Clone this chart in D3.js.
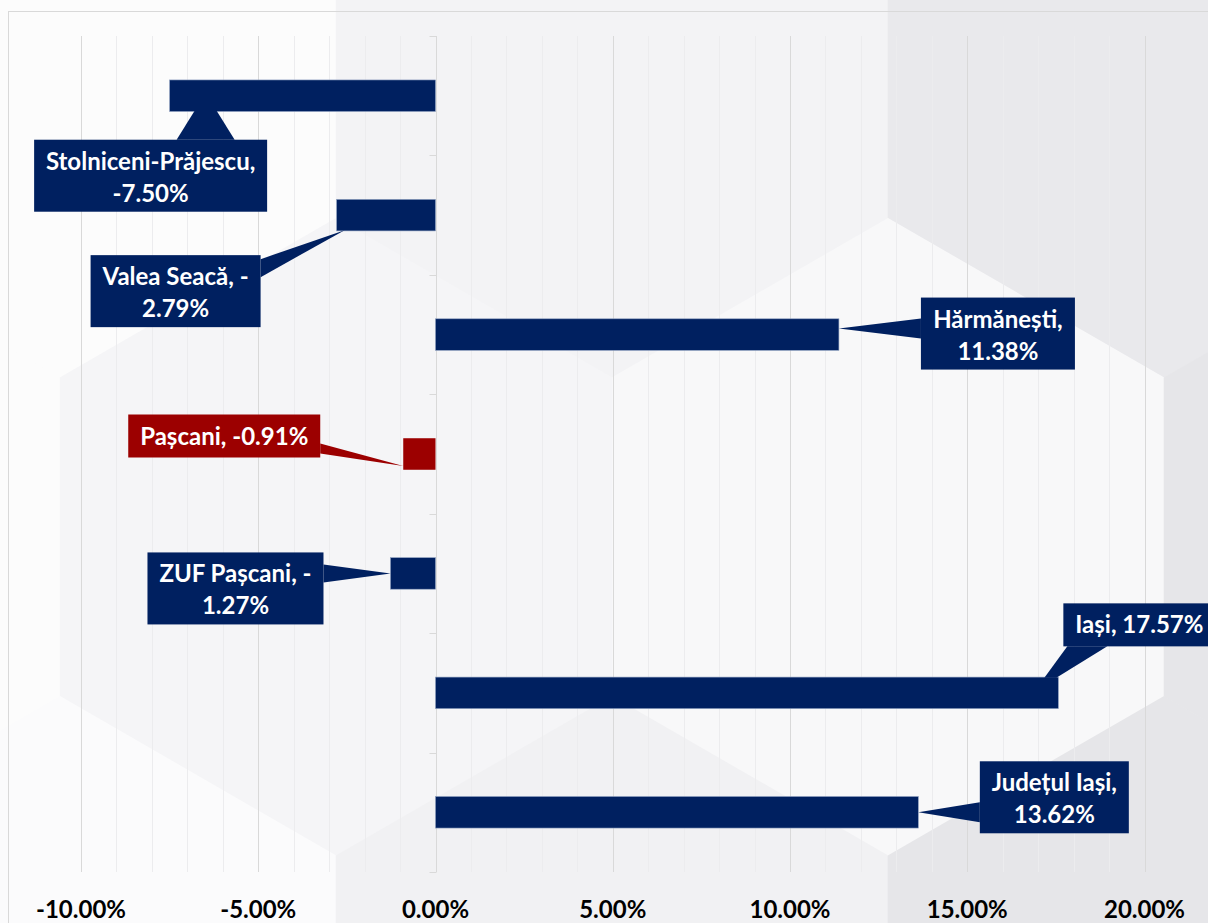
<!DOCTYPE html>
<html lang="ro">
<head>
    <meta charset="UTF-8">
    <title>Variația populației</title>
    <script src="https://d3js.org/d3.v7.min.js"></script>
    <style>
        html, body { margin: 0; padding: 0; background: #fafafa; }
        svg { display: block; }
        .tick-label { font-family: Lato, "Open Sans", sans-serif; font-weight: 700; font-size: 24px; fill: #000; }
        .callout text { font-family: Lato, "Open Sans", sans-serif; font-weight: 700; font-size: 24px; fill: #fff; }
    </style>
</head>
<body>
<div id="chart"></div>
<script>
    // date
    const categories = ["Stolniceni-Prăjescu", "Valea Seacă", "Hărmănești", "Pașcani", "ZUF Pașcani", "Iași", "Județul Iași"];
    const values = [-0.0750, -0.0279, 0.1138, -0.0091, -0.0127, 0.1757, 0.1362];
    const labelLines = [
        ["Stolniceni-Prăjescu,", "-7.50%"],
        ["Valea Seacă, -", "2.79%"],
        ["Hărmănești,", "11.38%"],
        ["Pașcani, -0.91%"],
        ["ZUF Pașcani, -", "1.27%"],
        ["Iași, 17.57%"],
        ["Județul Iași,", "13.62%"]
    ];
    const xTicks = [-0.10, -0.05, 0, 0.05, 0.10, 0.15, 0.20];
    const highlight = "Pașcani";

    // asezarea etichetelor (fata de capatul barei)
    const calloutLayout = [
        { dx: -19, dy: 80, side: "top", half: 29, apex: [36, 15], apexHalf: 11 },
        { dx: -161, dy: 76, side: "right", half: 9, apex: [8, 15], apexHalf: 0 },
        { dx: 159, dy: -1, side: "left", half: 10, apex: [0, -6], apexHalf: 0 },
        { dx: -179, dy: -18, side: "right", half: 5, apex: [0, 12], apexHalf: 0 },
        { dx: -155, dy: 15, side: "right", half: 9, apex: [0, 0], apexHalf: 0 },
        { dx: 81, dy: -68, side: "bottom", half: 20, apex: [-8, -15], apexHalf: 6 },
        { dx: 136, dy: -15, side: "left", half: 10, apex: [0, 0], apexHalf: 0 }
    ];

    const width = 1208, height = 923;
    const navy = "#002060", red = "#9c0000";

    const svg = d3.select("#chart").append("svg")
        .attr("width", width)
        .attr("height", height);

    // fundal cu hexagoane
    const hexR = 319, hexW = hexR * Math.sqrt(3);
    const hexRows = [
        { cy: 59, cx: [60 - hexW, 60, 612, 1164], fill: ["#fdfdfd", "#fcfcfc", "#f3f3f5", "#e9e9ec"] },
        { cy: 537, cx: [-216, 336, 888, 1440], fill: ["#fcfcfc", "#f5f5f7", "#f8f8f9", "#e6e6e9"] },
        { cy: 1015, cx: [60 - hexW, 60, 612, 1164], fill: ["#fdfdfd", "#fbfbfc", "#f1f1f3", "#e6e6e9"] }
    ];
    const hexPath = (cx, cy) => {
        const pts = d3.range(6).map(i => {
            const a = Math.PI / 180 * (60 * i - 90);
            return [cx + hexR * Math.cos(a), cy + hexR * Math.sin(a)];
        });
        return "M" + pts.join("L") + "Z";
    };
    const bg = svg.append("g");
    bg.append("rect").attr("width", width).attr("height", height).attr("fill", "#f8f8f8");
    hexRows.forEach(row => {
        row.cx.forEach((cx, i) => {
            bg.append("path").attr("d", hexPath(cx, row.cy)).attr("fill", row.fill[i]);
        });
    });

    // chenar
    svg.append("rect")
        .attr("x", 8.5).attr("y", 11.5)
        .attr("width", 1230).attr("height", 950)
        .attr("fill", "none")
        .attr("stroke", "#d9d9d9");

    const x = d3.scaleLinear().domain([-0.10, 0.20]).range([81, 1144.5]);
    const y = d3.scaleBand().domain(categories).range([36, 872]).paddingInner(0.736).paddingOuter(0.368);

    // grila
    const minor = d3.range(-10, 21).map(d => d / 100);
    svg.append("g").selectAll("line")
        .data(minor)
        .join("line")
        .attr("x1", d => Math.round(x(d)) + 0.5)
        .attr("x2", d => Math.round(x(d)) + 0.5)
        .attr("y1", 36).attr("y2", 872)
        .attr("stroke", (d, i) => i % 5 === 0 ? "#d9d9d9" : "#ececee")
        .attr("stroke-width", 1);

    // axa verticala
    const x0 = Math.round(x(0)) + 0.5;
    const yAxis = svg.append("g");
    yAxis.append("line")
        .attr("x1", x0).attr("x2", x0)
        .attr("y1", 36).attr("y2", 872)
        .attr("stroke", "#d9d9d9");
    const step = y.step();
    yAxis.selectAll("line.tk")
        .data(d3.range(categories.length + 1))
        .join("line")
        .attr("class", "tk")
        .attr("x1", x0 - 7).attr("x2", x0)
        .attr("y1", i => Math.round(36 + i * step) + 0.5)
        .attr("y2", i => Math.round(36 + i * step) + 0.5)
        .attr("stroke", "#d9d9d9");

    // axa orizontala (doar etichete)
    svg.append("g").selectAll("text")
        .data(xTicks)
        .join("text")
        .attr("class", "tick-label")
        .attr("x", d => x(d))
        .attr("y", 918)
        .attr("text-anchor", "middle")
        .text(d => d3.format(".2%")(d).replace("−", "-"));

    // bare
    svg.append("g").selectAll("rect")
        .data(categories)
        .join("rect")
        .attr("x", (d, i) => x(Math.min(0, values[i])))
        .attr("y", d => y(d))
        .attr("width", (d, i) => Math.abs(x(values[i]) - x(0)))
        .attr("height", y.bandwidth())
        .attr("fill", d => d === highlight ? red : navy)
        .attr("stroke", d => d === highlight ? "none" : "#8ea0c0")
        .attr("stroke-width", 0.6);

    // etichete de tip callout
    const lineH = 32, padX = 12, padY = 5;
    categories.forEach((cat, i) => {
        const v = values[i];
        const ax = x(v), ay = y(cat) + y.bandwidth() / 2;
        const lay = calloutLayout[i];
        const color = cat === highlight ? red : navy;
        const g = svg.append("g").attr("class", "callout");

        const lines = labelLines[i];
        const txt = g.append("text").attr("text-anchor", "middle");
        lines.forEach((l, j) => txt.append("tspan").attr("x", 0).attr("dy", j === 0 ? 0 : lineH).text(l));
        const tw = d3.max(txt.selectAll("tspan").nodes(), n => n.getComputedTextLength());
        const bw = Math.round(tw + 2 * padX);
        const bh = lines.length * lineH + 2 * padY - (lines.length === 1 ? -1 : 2);
        const cx = ax + lay.dx, cy = ay + lay.dy;
        const bx = cx - bw / 2, by = cy - bh / 2;

        // varful indicatorului
        const px = ax + lay.apex[0], py = ay + lay.apex[1];
        let base;
        if (lay.side === "top" || lay.side === "bottom") {
            const ey = lay.side === "top" ? by : by + bh;
            const m = Math.max(bx + lay.half + 4, Math.min(bx + bw - lay.half - 4, px));
            base = [[m - lay.half, ey], [m + lay.half, ey]];
        } else {
            const ex = lay.side === "left" ? bx : bx + bw;
            const m = Math.max(by + lay.half + 4, Math.min(by + bh - lay.half - 4, py));
            base = [[ex, m - lay.half], [ex, m + lay.half]];
        }
        const tip = lay.apexHalf > 0
            ? (lay.side === "top" || lay.side === "bottom"
                ? [[px + lay.apexHalf, py], [px - lay.apexHalf, py]]
                : [[px, py + lay.apexHalf], [px, py - lay.apexHalf]])
            : [[px, py]];
        g.append("path")
            .attr("d", "M" + [base[0], ...tip.slice().reverse(), base[1]].join("L") + "Z")
            .attr("fill", color);
        g.append("rect")
            .attr("x", bx).attr("y", by)
            .attr("width", bw).attr("height", bh)
            .attr("fill", color);
        txt.attr("transform", `translate(${cx},${by + padY + 25})`);
        g.node().appendChild(txt.node());
    });
</script>
</body>
</html>
